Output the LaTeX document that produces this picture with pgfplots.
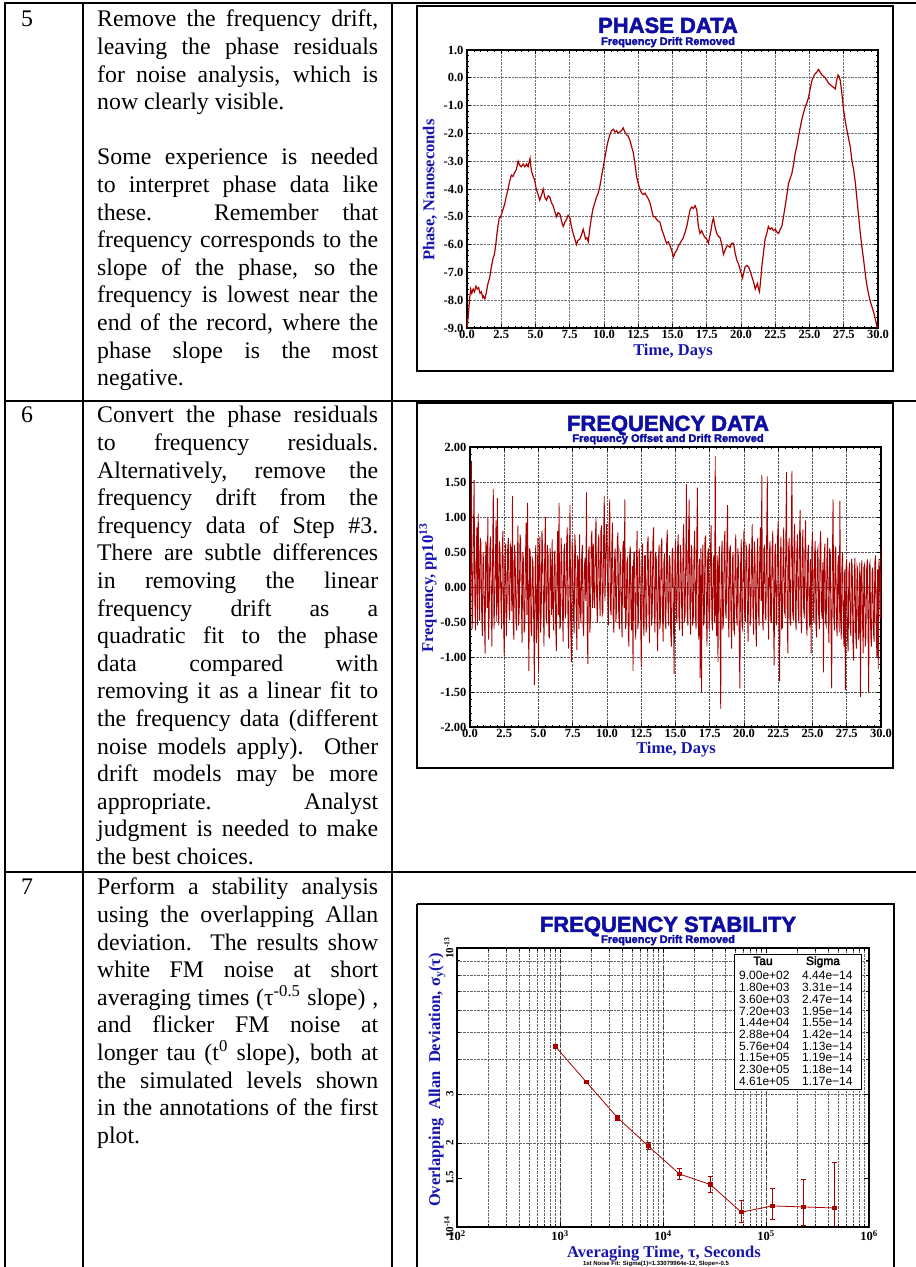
\documentclass[border=0pt]{standalone}
\usepackage{fontspec}
\setmainfont{Liberation Serif}
\newfontfamily\arial{Liberation Sans}
\usepackage{pgfplots}
\pgfplotsset{compat=1.18}
\definecolor{dred}{RGB}{168,0,0}
\definecolor{tblue}{RGB}{14,14,160}
\definecolor{lblue}{RGB}{22,22,175}
\newcommand\bodyfont{\fontsize{23.8}{27.6}\selectfont}
\newcommand\J[1]{\hbox to 281pt{#1}}
\newcommand\N[1]{\hbox{#1}}
\newcommand\ttl{\arial\bfseries\fontsize{22}{24}\selectfont}
\newcommand\sttl{\arial\bfseries\fontsize{11}{12}\selectfont}
\newcommand\lab{\bfseries\fontsize{16.5}{18}\selectfont}
\newcommand\tklab{\bfseries\fontsize{12.5}{13}\selectfont}
\newcommand\heavy[2]{\special{pdf:literal direct 2 Tr #1 w}#2\special{pdf:literal direct 0 Tr 1 w}}
\hbadness=10000
\hfuzz=10pt
\begin{document}
\begin{tikzpicture}[x=1pt,y=1pt]
\useasboundingbox (0,0) rectangle (916,1267);
% ---------------- table -----------------
\draw[line width=2pt] (4,1264) -- (916,1264);
\draw[line width=2pt] (5,1265) -- (5,-2);
\draw[line width=2pt] (83,1265) -- (83,-2);
\draw[line width=2pt] (392,1265) -- (392,-2);
\draw[line width=2pt] (4,866) -- (916,866);
\draw[line width=2pt] (4,395) -- (916,395);
% row numbers
\node[anchor=base west, inner sep=0] at (21,1240) {\bodyfont 5};
\node[anchor=base west, inner sep=0] at (21,844) {\bodyfont 6};
\node[anchor=base west, inner sep=0] at (21,372) {\bodyfont 7};
% row texts
\node[anchor=base west, inner sep=0] at (97,1240) {\vtop{\hsize=281pt \bodyfont
\J{Remove the frequency drift,}
\J{leaving the phase residuals}
\J{for noise analysis, which is}
\N{now clearly visible.}
\vskip 27.6pt
\J{Some experience is needed}
\J{to interpret phase data like}
\J{these. Remember that}
\J{frequency corresponds to the}
\J{slope of the phase, so the}
\J{frequency is lowest near the}
\J{end of the record, where the}
\J{phase slope is the most}
\N{negative.}}};
\node[anchor=base west, inner sep=0] at (97,844) {\vtop{\hsize=281pt \bodyfont
\J{Convert the phase residuals}
\J{to frequency residuals.}
\J{Alternatively, remove the}
\J{frequency drift from the}
\J{frequency data of Step \#3.}
\J{There are subtle differences}
\J{in removing the linear}
\J{frequency drift as a}
\J{quadratic fit to the phase}
\J{data compared with}
\J{removing it as a linear fit to}
\J{the frequency data (different}
\J{noise models apply).\ \ Other}
\J{drift models may be more}
\J{appropriate. Analyst}
\J{judgment is needed to make}
\N{the best choices.}}};
\node[anchor=base west, inner sep=0] at (97,372) {\vtop{\hsize=281pt \bodyfont
\J{Perform a stability analysis}
\J{using the overlapping Allan}
\J{deviation.\ \ The results show}
\J{white FM noise at short}
\J{averaging times (τ\textsuperscript{-0.5} slope) ,}
\J{and flicker FM noise at}
\J{longer tau (t\textsuperscript{0} slope), both at}
\J{the simulated levels shown}
\J{in the annotations of the first}
\N{plot.}}};
% ---------------- frames -----------------
\draw[line width=2.6pt] (417,1261) rectangle (893,896);
\draw[line width=2.6pt] (417,864) rectangle (893,499);
\draw[line width=2.6pt] (417,363) -- (417,-5) (417,363) -- (894,363) -- (894,-5);
% ---------------- PHASE DATA -----------------
\begin{axis}[at={(467pt,939pt)}, anchor=south west, scale only axis,
  width=411pt, height=278pt, xmin=0, xmax=30, ymin=-9, ymax=1,
  xtick={0,2.5,5,7.5,10,12.5,15,17.5,20,22.5,25,27.5,30},
  xticklabels={0.0,2.5,5.0,7.5,10.0,12.5,15.0,17.5,20.0,22.5,25.0,27.5,30.0},
  ytick={-9,-8,-7,-6,-5,-4,-3,-2,-1,0,1},
  yticklabels={-9.0,-8.0,-7.0,-6.0,-5.0,-4.0,-3.0,-2.0,-1.0,0.0,1.0},
  tick label style={font=\tklab},
  xticklabel style={yshift=1pt},
  grid=major, grid style={densely dotted, black!55, line width=0.6pt},
  minor x tick num=4, minor y tick num=4,
  axis line style={line width=1.6pt},
  tick style={black, line width=0.7pt},
  major tick length=4pt, minor tick length=2pt]
\addplot[dred, line width=1.2pt] coordinates {
(0,-9.0)(0.1,-8.5)(0.2,-7.9)(0.27,-7.6)(0.35,-7.75)(0.45,-7.6)(0.55,-7.7)(0.65,-7.5)(0.75,-7.6)(0.85,-7.55)(0.95,-7.75)(1.05,-7.7)(1.15,-7.9)(1.2,-7.85)(1.3,-7.95)(1.4,-7.75)(1.53,-7.4)(1.65,-7.2)(1.78,-6.8)(1.9,-6.5)(2.0,-6.35)(2.1,-6.0)(2.2,-5.55)(2.27,-5.3)(2.35,-5.05)(2.46,-5.0)(2.55,-4.85)(2.65,-4.7)(2.75,-4.55)(2.85,-4.3)(3.0,-4.0)(3.1,-3.75)(3.24,-3.5)(3.35,-3.55)(3.49,-3.4)(3.6,-3.3)(3.73,-3.0)(3.85,-3.15)(3.97,-3.2)(4.1,-3.1)(4.22,-3.2)(4.35,-3.1)(4.46,-3.2)(4.55,-3.0)(4.6,-2.9)(4.7,-3.35)(4.8,-3.5)(4.95,-3.7)(5.05,-4.0)(5.19,-4.2)(5.31,-4.4)(5.45,-4.2)(5.56,-4.0)(5.68,-4.3)(5.8,-4.4)(5.93,-4.25)(6.05,-4.3)(6.17,-4.5)(6.29,-4.6)(6.4,-4.8)(6.53,-5.0)(6.65,-4.85)(6.78,-4.9)(6.9,-5.15)(7.02,-5.35)(7.14,-5.2)(7.26,-5.1)(7.38,-4.95)(7.5,-5.0)(7.62,-5.35)(7.75,-5.6)(7.87,-5.8)(7.99,-6.0)(8.1,-5.85)(8.24,-5.8)(8.36,-5.65)(8.48,-5.45)(8.56,-5.6)(8.65,-5.8)(8.75,-5.75)(8.85,-5.9)(8.97,-5.4)(9.09,-5.0)(9.2,-4.7)(9.33,-4.5)(9.45,-4.3)(9.58,-4.15)(9.7,-3.9)(9.82,-3.55)(9.95,-3.2)(10.07,-2.85)(10.2,-2.5)(10.31,-2.25)(10.43,-2.05)(10.55,-1.9)(10.68,-1.85)(10.8,-1.95)(10.92,-1.9)(11.04,-2.0)(11.15,-1.95)(11.28,-1.9)(11.4,-1.8)(11.52,-1.95)(11.65,-2.05)(11.77,-2.1)(11.89,-2.25)(12.0,-2.45)(12.14,-2.7)(12.26,-3.1)(12.38,-3.55)(12.5,-3.8)(12.62,-4.0)(12.75,-4.15)(12.87,-4.2)(12.99,-4.15)(13.11,-4.25)(13.23,-4.35)(13.36,-4.5)(13.48,-4.75)(13.6,-5.0)(13.72,-5.0)(13.84,-5.1)(13.96,-5.15)(14.09,-5.2)(14.21,-5.45)(14.33,-5.6)(14.45,-5.8)(14.57,-5.95)(14.7,-5.9)(14.82,-6.05)(14.94,-6.2)(15.06,-6.45)(15.18,-6.3)(15.31,-6.2)(15.43,-6.05)(15.55,-5.95)(15.67,-5.85)(15.79,-5.75)(15.92,-5.55)(16.04,-5.35)(16.16,-5.05)(16.28,-4.75)(16.4,-4.65)(16.52,-4.7)(16.65,-4.6)(16.77,-4.75)(16.89,-5.35)(17.01,-5.6)(17.13,-5.5)(17.26,-5.65)(17.38,-5.75)(17.5,-5.8)(17.62,-5.95)(17.72,-5.7)(17.82,-5.45)(17.92,-5.15)(17.99,-5.05)(18.1,-5.35)(18.23,-5.6)(18.35,-5.7)(18.47,-5.75)(18.6,-6.0)(18.72,-6.35)(18.84,-6.2)(18.96,-6.05)(19.08,-6.05)(19.2,-6.1)(19.33,-5.95)(19.45,-5.95)(19.57,-6.3)(19.69,-6.55)(19.82,-6.7)(19.94,-6.9)(20.03,-7.05)(20.11,-7.2)(20.2,-7.0)(20.3,-6.8)(20.42,-6.75)(20.55,-6.8)(20.67,-6.95)(20.79,-7.15)(20.92,-7.35)(21.04,-7.6)(21.12,-7.5)(21.2,-7.4)(21.28,-7.6)(21.35,-7.7)(21.45,-7.2)(21.52,-6.8)(21.64,-6.3)(21.76,-5.8)(21.88,-5.6)(22.0,-5.35)(22.12,-5.45)(22.25,-5.4)(22.37,-5.5)(22.5,-5.45)(22.62,-5.55)(22.74,-5.6)(22.86,-5.45)(22.98,-5.35)(23.1,-5.0)(23.23,-4.6)(23.35,-4.2)(23.47,-3.8)(23.6,-3.6)(23.71,-3.45)(23.84,-3.1)(23.96,-2.7)(24.08,-2.45)(24.2,-2.1)(24.32,-1.8)(24.44,-1.5)(24.57,-1.25)(24.69,-1.05)(24.81,-0.9)(24.93,-0.7)(25.05,-0.4)(25.18,-0.1)(25.3,0.05)(25.42,0.15)(25.54,0.2)(25.66,0.3)(25.78,0.2)(25.91,0.1)(26.03,0.05)(26.15,0.0)(26.28,-0.1)(26.4,-0.2)(26.52,-0.25)(26.64,-0.3)(26.76,-0.35)(26.88,-0.4)(26.98,-0.1)(27.08,0.1)(27.16,0.05)(27.25,-0.1)(27.37,-0.6)(27.49,-1.15)(27.62,-1.6)(27.74,-1.9)(27.86,-2.2)(27.98,-2.5)(28.1,-3.0)(28.22,-3.3)(28.35,-3.8)(28.47,-4.4)(28.59,-5.0)(28.71,-5.6)(28.83,-6.1)(28.95,-6.55)(29.08,-7.1)(29.2,-7.5)(29.32,-7.8)(29.44,-8.05)(29.57,-8.25)(29.69,-8.45)(29.81,-8.7)(29.93,-8.95)(30,-9.0)};
\end{axis}
\node[font=\ttl, text=tblue, anchor=base] at (668,1234) {\heavy{0.5}{PHASE DATA}};
\node[font=\sttl, text=tblue, anchor=base] at (668,1222) {\heavy{0.3}{Frequency Drift Removed}};
\node[font=\lab, text=lblue, anchor=base] at (673,911) {Time,\ Days};
\node[font=\lab, text=lblue, rotate=90] at (430,1077) {Phase,\ Nanoseconds};
% ---------------- FREQUENCY DATA -----------------
\begin{axis}[at={(470pt,540pt)}, anchor=south west, scale only axis,
  width=411pt, height=280pt, xmin=0, xmax=30, ymin=-2, ymax=2,
  xtick={0,2.5,5,7.5,10,12.5,15,17.5,20,22.5,25,27.5,30},
  xticklabels={0.0,2.5,5.0,7.5,10.0,12.5,15.0,17.5,20.0,22.5,25.0,27.5,30.0},
  ytick={-2,-1.5,-1,-0.5,0,0.5,1,1.5,2},
  yticklabels={-2.00,-1.50,-1.00,-0.50,0.00,0.50,1.00,1.50,2.00},
  tick label style={font=\tklab},
  xticklabel style={yshift=1pt},
  grid=major, grid style={densely dotted, black!65, line width=0.6pt},
  minor x tick num=4, minor y tick num=4,
  axis line style={line width=1.6pt},
  tick style={black, line width=0.7pt},
  major tick length=4pt, minor tick length=2pt]
\addplot[dred, line width=0.85pt] table[row sep=\\, header=false, x expr=\coordindex*0.05, y index=0] {
-0.45\\ 0.30\\ 1.80\\ -0.60\\ -0.35\\ 0.75\\ 1.53\\ -0.20\\ -0.62\\ 0.40\\ 0.85\\ -0.55\\ 1.05\\ 0.15\\ -0.48\\ 0.70\\ 0.62\\ -0.35\\ -0.70\\ 0.50\\
0.35\\ -0.40\\ -0.95\\ 0.65\\ 0.58\\ -0.30\\ 1.00\\ -0.75\\ -0.40\\ 0.55\\ 0.72\\ -0.20\\ -0.85\\ 0.45\\ 1.40\\ -0.60\\ -0.22\\ 0.30\\ 0.95\\ -0.50\\
1.27\\ -0.25\\ -0.55\\ 0.65\\ 0.48\\ -0.15\\ -0.60\\ 0.50\\ 0.80\\ -0.45\\ -1.00\\ 0.35\\ 0.62\\ -0.70\\ -0.35\\ 0.55\\ 0.70\\ -0.30\\ -0.48\\ 0.60\\
0.55\\ -0.35\\ 1.30\\ -0.50\\ -0.75\\ 0.60\\ 0.42\\ -0.45\\ -0.62\\ 0.30\\ 0.88\\ -0.55\\ -0.30\\ 0.75\\ 0.66\\ -0.20\\ -0.80\\ 0.50\\ 0.40\\ -0.65\\
-0.55\\ 0.45\\ 0.92\\ -0.40\\ 1.20\\ -0.30\\ -1.20\\ 0.55\\ 0.50\\ -0.60\\ -0.70\\ 0.40\\ 0.35\\ -0.50\\ -1.40\\ 0.25\\ 0.60\\ -0.80\\ -0.45\\ 0.70\\
-1.20\\ 0.35\\ 0.72\\ -0.65\\ -0.38\\ 0.80\\ 0.58\\ -0.25\\ -0.85\\ 0.40\\ 1.00\\ -0.45\\ -0.50\\ 0.60\\ 0.45\\ -0.70\\ -0.72\\ 0.55\\ 0.30\\ -0.40\\
0.68\\ -0.30\\ -0.62\\ 0.45\\ 0.52\\ -0.50\\ -0.92\\ 0.35\\ 0.80\\ -0.40\\ 1.20\\ -0.60\\ -0.55\\ 0.70\\ 0.40\\ -0.35\\ -0.78\\ 0.50\\ 0.62\\ -0.45\\
-0.35\\ 0.60\\ 0.85\\ -0.45\\ -0.88\\ 0.30\\ 1.17\\ -0.55\\ -1.07\\ 0.65\\ 0.48\\ -0.40\\ -0.66\\ 0.75\\ 0.55\\ -0.30\\ -0.90\\ 0.45\\ 0.36\\ -0.60\\
0.75\\ -0.35\\ -0.52\\ 0.40\\ 0.60\\ -0.55\\ -0.70\\ 0.30\\ 0.42\\ -0.20\\ 1.35\\ -0.45\\ -1.10\\ 0.50\\ 0.58\\ -0.65\\ -0.45\\ 0.70\\ 0.80\\ -0.30\\
0.62\\ -0.15\\ -0.30\\ 0.70\\ 0.98\\ -0.25\\ -0.50\\ 0.55\\ 0.75\\ -0.10\\ -0.42\\ 0.80\\ 0.88\\ -0.40\\ -0.35\\ 0.65\\ 1.30\\ -0.20\\ 0.20\\ 0.90\\
0.70\\ -0.10\\ -0.55\\ 0.85\\ 1.25\\ -0.30\\ -0.40\\ 0.60\\ 0.92\\ -0.45\\ -0.65\\ 0.40\\ 0.55\\ -0.50\\ -0.30\\ 0.65\\ 0.78\\ -0.35\\ -0.60\\ 0.50\\
0.45\\ -0.40\\ -0.72\\ 0.55\\ 0.66\\ -0.30\\ 1.25\\ -0.60\\ -0.50\\ 0.35\\ 0.40\\ -0.65\\ -0.85\\ 0.45\\ 0.58\\ -0.40\\ -0.62\\ 0.30\\ -1.20\\ 0.50\\
0.50\\ -0.45\\ -0.75\\ 0.40\\ 0.80\\ -0.60\\ -0.48\\ 0.55\\ 0.35\\ -0.35\\ -1.15\\ 0.30\\ 0.62\\ -0.50\\ -0.70\\ 0.45\\ 0.45\\ -0.65\\ -0.55\\ 0.60\\
0.72\\ -0.30\\ -0.80\\ 0.45\\ 0.52\\ -0.55\\ -0.42\\ 0.65\\ 0.85\\ -0.35\\ -0.65\\ 0.50\\ 0.40\\ -0.45\\ -0.92\\ 0.35\\ 0.60\\ -0.60\\ -0.50\\ 0.55\\
0.70\\ -0.40\\ -0.78\\ 0.35\\ 0.48\\ -0.50\\ -0.60\\ 0.60\\ 0.82\\ -0.30\\ -0.55\\ 0.45\\ 0.38\\ -0.65\\ -0.85\\ 0.50\\ 0.56\\ -0.40\\ -1.24\\ 0.35\\
0.66\\ -0.35\\ -0.50\\ 0.55\\ 0.75\\ -0.45\\ -0.62\\ 0.60\\ 0.45\\ -0.30\\ -0.70\\ 0.65\\ 0.90\\ -0.50\\ -0.40\\ 0.40\\ 1.47\\ -0.35\\ -0.55\\ 0.70\\
1.25\\ -0.30\\ -0.68\\ 0.60\\ 0.52\\ -0.55\\ -0.45\\ 0.50\\ 0.80\\ -0.40\\ -0.60\\ 0.65\\ 1.42\\ -0.45\\ -0.75\\ 0.40\\ -1.30\\ 0.55\\ -1.50\\ 0.30\\
0.60\\ -0.55\\ -0.48\\ 0.70\\ 0.72\\ -0.35\\ -0.85\\ 0.45\\ 0.55\\ -0.60\\ -0.40\\ 0.50\\ 0.88\\ -0.45\\ -0.62\\ 0.35\\ 0.45\\ -0.50\\ 1.87\\ -0.40\\
-0.70\\ 0.45\\ -1.07\\ 0.30\\ 0.58\\ -0.50\\ -1.74\\ 0.40\\ 0.66\\ -0.60\\ -0.52\\ 0.55\\ 0.80\\ -0.35\\ -0.45\\ 0.60\\ 1.17\\ -0.40\\ -0.72\\ 0.50\\
0.60\\ -0.45\\ -0.88\\ 0.35\\ 0.50\\ -0.60\\ -0.65\\ 0.45\\ 0.75\\ -0.40\\ -0.55\\ 0.55\\ 0.42\\ -0.70\\ -1.45\\ 0.30\\ 0.68\\ -0.55\\ -0.60\\ 0.45\\
0.82\\ -0.40\\ -0.50\\ 0.60\\ 0.55\\ -0.35\\ -0.78\\ 0.50\\ 0.62\\ -0.55\\ -0.42\\ 0.45\\ 0.90\\ -0.30\\ -0.68\\ 0.65\\ 0.48\\ -0.45\\ -0.85\\ 0.40\\
0.70\\ -0.35\\ -0.55\\ 0.50\\ 0.85\\ -0.20\\ 1.60\\ -0.45\\ -0.62\\ 0.55\\ 0.58\\ -0.40\\ -0.48\\ 0.65\\ 1.58\\ -0.30\\ -0.75\\ 0.45\\ 0.66\\ -0.50\\
-0.50\\ 0.55\\ 0.80\\ -0.40\\ -1.12\\ 0.45\\ 0.62\\ -0.55\\ -0.45\\ 0.70\\ 0.95\\ -0.30\\ -1.35\\ 0.40\\ 0.72\\ -0.60\\ -0.58\\ 0.50\\ 0.85\\ -0.35\\
-0.40\\ 0.60\\ 1.64\\ -0.30\\ -0.95\\ 0.55\\ 0.70\\ -0.45\\ -0.55\\ 0.80\\ 1.66\\ -0.35\\ -0.48\\ 0.65\\ 0.90\\ -0.40\\ -0.62\\ 0.50\\ 0.75\\ -0.30\\
-0.52\\ 0.70\\ 1.10\\ -0.40\\ -0.66\\ 0.55\\ 0.82\\ -0.30\\ -0.45\\ 0.60\\ 0.95\\ -0.50\\ -0.70\\ 0.45\\ 0.60\\ -0.35\\ -0.58\\ 0.40\\ -0.95\\ 0.55\\
0.78\\ -0.35\\ -0.50\\ 0.45\\ 0.66\\ -0.55\\ -0.72\\ 0.50\\ 0.55\\ -0.40\\ -0.60\\ 0.60\\ 0.80\\ -0.30\\ -0.45\\ 0.35\\ -1.22\\ 0.40\\ 0.62\\ -0.50\\
-0.55\\ 0.40\\ 0.70\\ -0.45\\ -0.80\\ 0.55\\ 0.48\\ -0.60\\ -1.45\\ 0.35\\ 1.25\\ -0.40\\ -0.62\\ 0.50\\ 0.58\\ -0.55\\ -0.70\\ 0.30\\ 0.45\\ -0.65\\
1.23\\ -0.45\\ -0.75\\ 0.35\\ 0.50\\ -0.60\\ -0.85\\ 0.25\\ -1.47\\ 0.30\\ 0.40\\ -0.70\\ -0.92\\ 0.20\\ 0.35\\ -0.55\\ -0.70\\ 0.40\\ 0.30\\ -0.80\\
-1.05\\ 0.20\\ 0.42\\ -0.65\\ -0.88\\ 0.30\\ 0.25\\ -0.75\\ -0.60\\ 0.35\\ -1.57\\ 0.15\\ 0.38\\ -0.50\\ -0.95\\ 0.28\\ 0.32\\ -0.85\\ -0.72\\ 0.25\\
0.40\\ -0.55\\ -1.50\\ 0.30\\ 0.35\\ -0.70\\ -0.85\\ 0.20\\ 0.28\\ -0.65\\ -0.78\\ 0.35\\ 0.45\\ -0.60\\ -1.00\\ 0.25\\ -1.17\\ 0.40\\ 0.20\\ -0.45\\
0.55\\
};
\end{axis}
\node[font=\ttl, text=tblue, anchor=base] at (668,836) {\heavy{0.5}{FREQUENCY DATA}};
\node[font=\sttl, text=tblue, anchor=base] at (668,825) {\heavy{0.3}{Frequency Offset and Drift Removed}};
\node[font=\lab, text=lblue, anchor=base] at (676,513) {Time,\ Days};
\node[font=\lab, text=lblue, rotate=90] at (428,679) {Frequency,\ pp10\textsuperscript{13}};
% ---------------- FREQUENCY STABILITY -----------------
\begin{axis}[at={(457pt,40pt)}, anchor=south west, scale only axis,
  width=412pt, height=279pt, xmode=log, ymode=log,
  xmin=100, xmax=1000000, ymin=1, ymax=10,
  xtick={100,1000,10000,100000,1000000},
  xticklabels={10\textsuperscript{2},10\textsuperscript{3},10\textsuperscript{4},10\textsuperscript{5},10\textsuperscript{6}},
  ytick={1,1.5,2,3,10},
  yticklabels={10\textsuperscript{-14},1.5,2,3,10\textsuperscript{-13}},
  minor ytick={2,3,4,5,6,7,8,9},
  tick label style={font=\tklab},
  yticklabel style={rotate=90, anchor=south, font=\bfseries\fontsize{11}{12}\selectfont},
  xmajorgrids, xminorgrids, yminorgrids,
  major grid style={dashed, black!75, line width=0.6pt},
  minor grid style={densely dotted, black!60, line width=0.5pt},
  axis line style={line width=1.6pt},
  tick style={black, line width=0.7pt},
  major tick length=5pt, minor tick length=3pt]
\addplot[dred, line width=0.8pt, mark=square*, mark size=1.7pt,
  error bars/.cd, y dir=both, y explicit,
  error bar style={line width=0.8pt, dred},
  error mark options={rotate=90, mark size=2.2pt, dred, line width=0.8pt}]
coordinates {
(900,4.44) += (0,0.03) -= (0,0.03)
(1800,3.31) += (0,0.04) -= (0,0.04)
(3600,2.47) += (0,0.05) -= (0,0.05)
(7200,1.95) += (0,0.066) -= (0,0.06)
(14400,1.55) += (0,0.077) -= (0,0.072)
(28800,1.42) += (0,0.098) -= (0,0.085)
(57600,1.13) += (0,0.116) -= (0,0.088)
(115200,1.19) += (0,0.18) -= (0,0.125)
(230400,1.18) += (0,0.30) -= (0,0.166)
(460800,1.17) += (0,0.54) -= (0,0.20)
};
\end{axis}
\node[font=\ttl, text=tblue, anchor=base] at (668,335) {\heavy{0.5}{FREQUENCY STABILITY}};
\node[font=\sttl, text=tblue, anchor=base] at (668,324) {\heavy{0.3}{Frequency Drift Removed}};
\node[font=\lab, text=lblue] at (664,13) {Averaging Time,\ τ,\ Seconds};
\node[font=\arial\bfseries\fontsize{6}{7}\selectfont, anchor=base] at (656,1) {1st Noise Fit: Sigma(1)=1.33079964e-12, Slope=-0.5};
\node[font=\lab, text=lblue, rotate=90] at (437,187) {Overlapping\ \ Allan\ \ Deviation,\ σ\textsubscript{y}(τ)};
% Tau / Sigma box
\draw[fill=white, line width=0.8pt] (734,313) rectangle (861,178);
\node[font=\arial\fontsize{12}{13}\selectfont, anchor=base] at (763,302) {\heavy{0.3}{Tau}};
\node[font=\arial\fontsize{12}{13}\selectfont, anchor=base] at (823,302) {\heavy{0.3}{Sigma}};
\foreach \t/\s [count=\i] in {9.00e+02/4.44e−14, 1.80e+03/3.31e−14, 3.60e+03/2.47e−14, 7.20e+03/1.95e−14, 1.44e+04/1.55e−14, 2.88e+04/1.42e−14, 5.76e+04/1.13e−14, 1.15e+05/1.19e−14, 2.30e+05/1.18e−14, 4.61e+05/1.17e−14} {
  \node[font=\arial\fontsize{12}{13}\selectfont, anchor=base west, inner sep=0] at (739,{287-(\i-1)*11.67}) {\t};
  \node[font=\arial\fontsize{12}{13}\selectfont, anchor=base west, inner sep=0] at (802,{287-(\i-1)*11.67}) {\s};
}
\end{tikzpicture}
\end{document}
